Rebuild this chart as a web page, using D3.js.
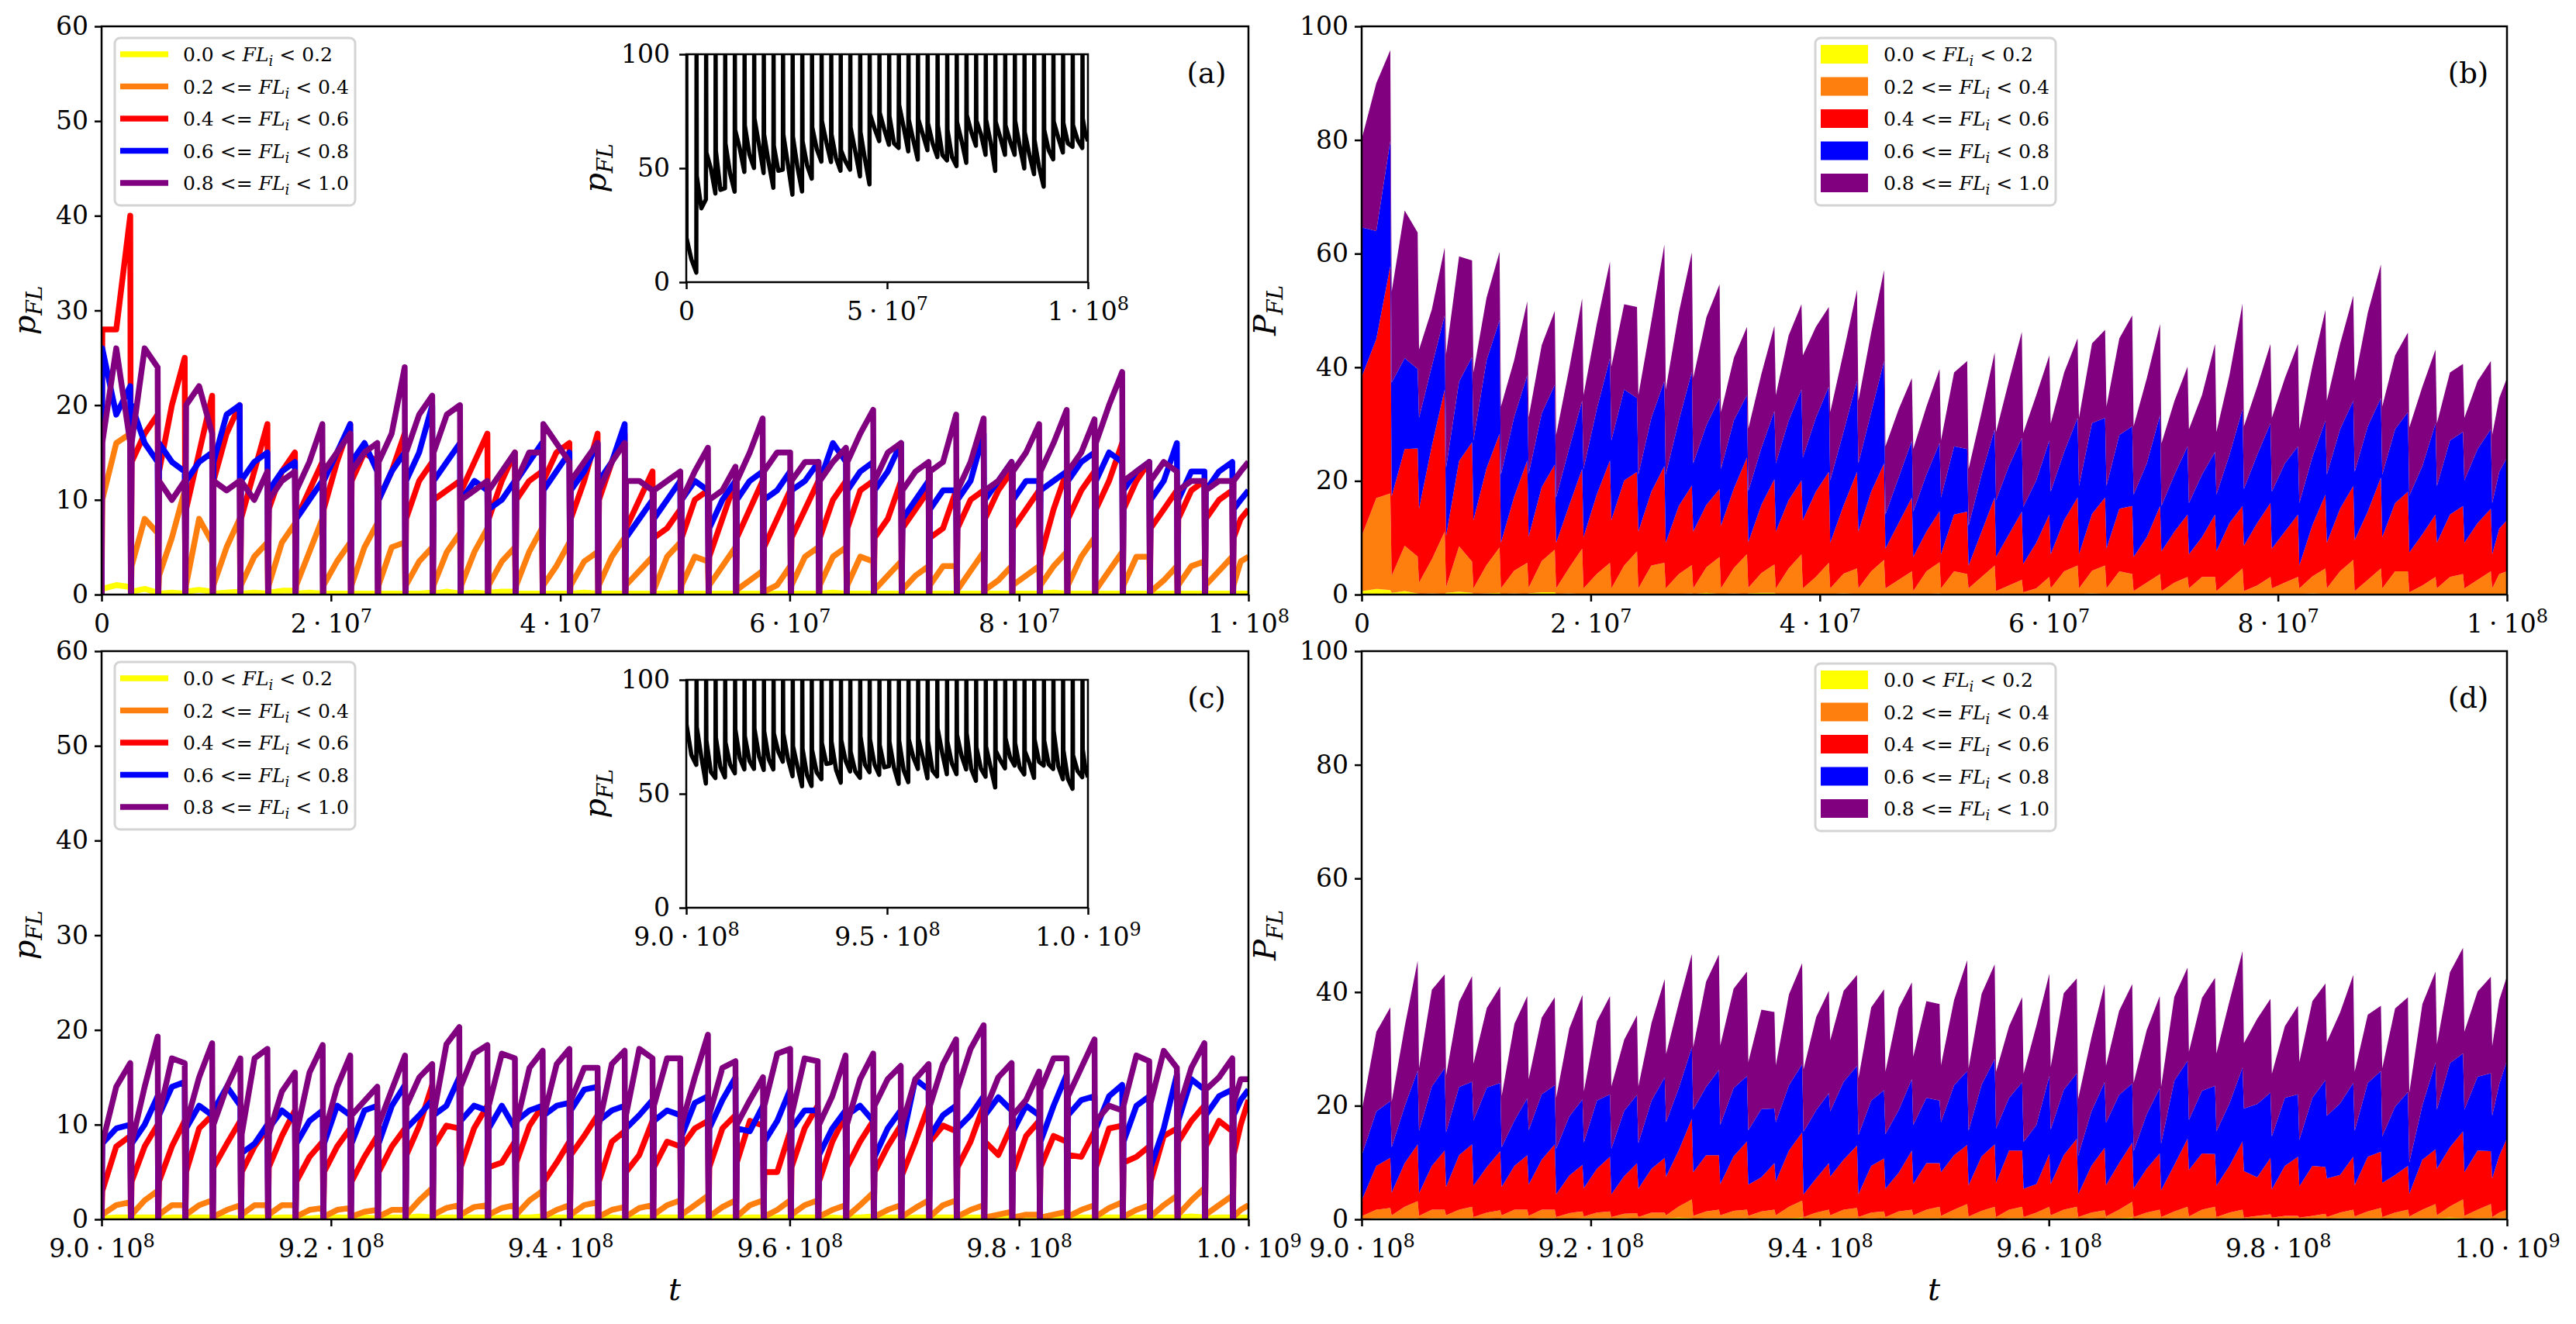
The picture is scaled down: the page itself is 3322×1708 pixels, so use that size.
<!DOCTYPE html>
<html><head><meta charset="utf-8">
<script src="https://cdn.jsdelivr.net/npm/d3@7"></script>
<style>
body{margin:0;background:#fff}
svg{display:block}
text{font-family:"DejaVu Serif",serif;white-space:pre}
</style>
</head><body>
<svg id="fig" width="3322" height="1708"></svg>
<script>
// ================= DATA =================
// Reset times (units of 1e6) where every FL bin drops to 0, top row (t in [0,1e8])
const cycA = [2.56,4.95,7.31,9.70,12.10,14.52,16.92,19.31,21.74,24.10,26.49,28.89,31.31,33.70,36.10,38.46,40.85,43.31,45.67,48.10,
  50.52,52.93,55.33,57.70,60.10,62.57,64.97,67.34,69.77,72.17,74.57,76.97,79.41,81.81,84.21,86.64,89.05,91.41,93.82,96.22,98.65];
// Per cycle: [value just after reset, mid-cycle value, value just before next reset]  (percent)
const yellowA = [[0.6,1.0,0.8],[0.3,0.6,0.2],[0.1,0.2,0.1],[0.3,0.5,0.3],[0.1,0.2,0.3],[0.1,0.2,0.1],[0.2,0.4,0.4],[0.1,0.2,0.1],[0.1,0.1,0.1],[0.1,0.1,0.1],
  [0.1,0.1,0.1],[0.1,0.1,0.2],[0.1,0.3,0.1],[0.1,0.2,0.1],[0.2,0.3,0.3],[0.1,0.1,0.1],[0.1,0.1,0.1],[0.1,0.2,0.1],[0.1,0.1,0.1],[0.1,0.1,0.1],
  [0.1,0.1,0.2],[0.1,0.1,0.1],[0.1,0.1,0.1],[0.1,0.1,0.1],[0.1,0.1,0.1],[0.1,0.1,0.1],[0.1,0.2,0.1],[0.1,0.1,0.1],[0.1,0.1,0.1],[0.1,0.1,0.1],
  [0.1,0.1,0.1],[0.1,0.1,0.1],[0.1,0.1,0.1],[0.1,0.1,0.1],[0.1,0.2,0.1],[0.1,0.1,0.1],[0.1,0.1,0.1],[0.1,0.1,0.1],[0.1,0.1,0.1],[0.1,0.1,0.1],
  [0.1,0.1,0.1],[0.1,0.1,0.1]];
const orangeA = [[10,16,17],[3,8,6.5],[2,6,11],[1,8,5.5],[1,5,8],[1,4,5.5],[1,5.5,7.5],[1,4.5,8],[1,3.5,5.5],[1,5,7.5],
  [1,5,5.5],[1,3.5,5],[1,4.5,6.5],[1,4.5,7],[1,3.5,5],[1,4.5,7],[1,3,5.5],[1,3.5,4.5],[1,4,6],[1,2.5,4],
  [0.5,4,5.5],[1,4,3.5],[1,3,5],[0.5,1.5,2.5],[0.3,1,3],[1,4,5],[1,4,5],[1,4,3.5],[0.5,2,3.5],[0.5,2,3],
  [1,3,3],[0.5,2.5,4.5],[0.5,1.5,3],[1,2,3],[1,3,4.5],[1,4,6],[0.5,2.5,4.5],[1,4,4],[0.3,1.5,3],[1,3,3.5],
  [1,2.5,4],[1,3.5,4]];
const redA = [[28,28,40],[14,17,19],[13,20,25],[9,15,21],[12,17,20],[8,13,18],[9,13,15],[8,11,14],[9,14,18],[12,15,14],
  [10,13,17],[8,12,14],[10,11,12],[11,14,17],[8,12,15],[10,12,13],[12,15,16],[8,12,17],[10,14,17],[7,10,13],
  [6,7,9],[6,10,11],[4,8,12],[6,9,12],[5,8,11],[6,9,12],[6,10,12],[7,11,12],[6,8,12],[7,9,11],
  [6,7,11],[7,10,11],[8,11,13],[7,9,11],[4,9,13],[8,11,13],[9,12,16],[9,12,14],[7,9,11],[8,11,12],
  [8,10,11],[6,8,9]];
const blueA = [[26,19,22],[20,16,14],[16,14,13],[12,14,15],[14,19,20],[12,14,15],[11,13,14],[8,10,12],[12,15,18],[14,16,13],
  [10,13,15],[12,15,20],[12,14,16],[10,12,11],[9,10,12],[12,14,16],[11,13,15],[11,13,16],[12,14,18],[6,8,10],
  [8,10,12],[10,12,11],[7,10,12],[10,12,13],[10,11,13],[11,12,14],[12,16,14],[11,13,14],[11,13,16],[8,10,12],
  [9,11,11],[10,12,17],[10,12,14],[10,12,12],[11,12,13],[12,14,15],[12,15,14],[11,13,14],[10,12,16],[10,13,13],
  [11,13,14],[9,10,11]];
const purpleA = [[16,26,16],[16,26,24],[12,10,12],[20,22,17],[12,11,12],[12,10,13],[10,12,13],[11,14,18],[13,15,17],[13,15,16],
  [14,17,24],[15,19,21],[15,19,20],[10,11,12],[11,13,15],[12,15,15],[18,16,14],[12,14,16],[11,14,16],[12,12,11],
  [11,12,13],[10,13,15.5],[10,11,13.5],[12,15,18.6],[13,15,15],[12,14,14],[12,14,15.5],[14,17,19.5],[12,15,16],[11,13,14],
  [13,14,19],[11,14,18.6],[11,12,14],[13,15,18],[13,16,19.5],[13,15,18.5],[16,20,23.5],[12,13,14],[12,14,13],[11,12,12],
  [11,12,12],[12,13,14]];

// Bottom row (t in [9e8,1e9]), reset times in units of 1e6
const cycC = [902.56,904.95,907.31,909.70,912.16,914.52,916.92,919.34,921.74,924.10,926.52,928.89,931.25,933.70,936.10,938.52,940.85,943.31,945.67,948.10,
  950.52,952.93,955.33,957.73,960.10,962.50,964.93,967.34,969.74,972.17,974.57,976.97,979.41,981.81,984.21,986.64,989.05,991.41,993.82,996.22,998.65];
const yellowC = [[0.1,0.2,0.2],[0.2,0.2,0.2],[0.1,0.2,0.2],[0.2,0.2,0.2],[0.1,0.2,0.1],[0.2,0.2,0.2],[0.1,0.2,0.2],[0.1,0.1,0.2],[0.2,0.2,0.2],[0.1,0.2,0.1],
  [0.1,0.2,0.2],[0.2,0.3,0.2],[0.1,0.2,0.2],[0.2,0.2,0.2],[0.1,0.2,0.2],[0.2,0.2,0.3],[0.1,0.2,0.2],[0.2,0.2,0.2],[0.1,0.2,0.1],[0.1,0.2,0.2],
  [0.2,0.2,0.2],[0.1,0.2,0.2],[0.2,0.2,0.2],[0.1,0.2,0.2],[0.1,0.2,0.2],[0.2,0.2,0.2],[0.1,0.2,0.1],[0.2,0.2,0.3],[0.1,0.2,0.2],[0.1,0.2,0.2],
  [0.2,0.2,0.2],[0.1,0.2,0.2],[0.1,0.1,0.1],[0.1,0.1,0.1],[0.1,0.1,0.2],[0.1,0.2,0.2],[0.2,0.2,0.2],[0.1,0.2,0.2],[0.2,0.2,0.2],[0.2,0.3,0.2],
  [0.1,0.2,0.2],[0.1,0.2,0.2]];
const orangeC = [[0.5,1.5,1.8],[0.5,2,3],[0.5,1.5,1.5],[0.5,1.5,2],[0.3,1,1.5],[0.5,1.5,1.5],[0.5,1.5,1.5],[0.3,1,1.2],[0.3,1,1.2],[0.3,0.8,1],
  [0.3,1,1],[0.5,2,3.3],[0.5,1.2,1.5],[0.5,1.3,1.5],[0.5,1.2,1.5],[0.5,2,3],[0.3,1,1.5],[0.5,1.5,1.8],[0.3,1,1.3],[0.3,1.2,1.5],
  [0.5,1.5,2],[0.5,1.5,2.5],[0.3,1.3,2],[0.3,1.5,2],[0.3,1,2],[0.5,1.5,2],[0.3,1,1.5],[0.3,1.5,2.8],[0.3,1,1.5],[0.3,1.2,2],
  [0.3,1.5,2],[0.3,1,1.5],[0.2,0.5,0.8],[0.2,0.5,0.5],[0.2,0.5,0.8],[0.3,1,1.5],[0.3,1.2,1.8],[0.3,1,1.5],[0.3,1.5,2.5],[0.5,2,3.3],
  [0.5,1.5,2.5],[0.3,1,1.5]];
const redC = [[3,7.7,8.8],[4,7.7,10],[4,7.7,10.4],[5,9.6,11],[5.5,8,10.4],[5,7.7,9.6],[5.5,8.8,11.5],[4,6.6,8.2],[5,7.7,9.6],[4,6.6,8.8],
  [5,7.7,9.6],[6.8,9.9,14.2],[7.7,9.9,9.6],[5.5,9.6,12],[5.5,6,8.2],[6,9.9,12],[4,6,8.2],[6.8,8.8,11],[4,8.2,9.3],[5,6.8,10.4],
  [5.5,8.2,7.7],[7.7,9.6,10.4],[5.5,9.6,11],[6,10.4,9.9],[5,5,9.3],[5.5,9.6,12],[4,8.2,11],[5.5,8.2,10.4],[5,7.7,9.9],[4.7,8.2,12],
  [8.2,9.9,9.3],[5.5,8.2,12],[8.2,6.8,9.9],[5,8.8,10.4],[5.5,8.8,8.2],[6.8,6.6,9.3],[5.5,9.6,9.9],[6,6.6,7.7],[4,8.8,9.6],[8.2,10.4,12],
  [7.7,10.4,9.3],[6.8,10,12.6]];
const blueC = [[8,9.6,10],[8,10,13],[11,14,14.5],[9.6,12,11],[11.5,14,12],[7,8,10],[9.6,11.5,10.4],[8,10.4,11.5],[8,12,11],[8,11.5,12],
  [8,12,14.2],[9.6,11,12.6],[11,12,15],[10.4,12,11.5],[9.6,12,9.6],[10.4,11.5,12],[11,12,12.3],[11.5,13.7,14],[10.4,11.5,12],[9.6,11,12.6],
  [10.4,11.5,11],[8.8,12.3,13],[9.6,12.6,15],[9.6,9.3,12],[8.2,10.4,13.7],[9.6,11.5,11.5],[6.8,9.6,11.5],[11,12,10.4],[6.6,9.6,11.5],[8.2,14.8,13.7],
  [8.8,11,12],[9.6,11,13],[11,12.9,11.5],[9.3,12,11],[8.2,12,15.3],[11,12.6,13],[9.6,13,14.2],[8.2,12,13],[5.5,9.6,15.3],[10.4,14.8,13.7],
  [11,13,13.7],[11,12.6,13.7]];
const purpleC = [[8,14,16.5],[8,14,19.3],[11,17,16.5],[10,15,18.6],[10,14,17],[9,17,18],[9,13.5,15.5],[9,15.5,18.4],[9,14,17.3],[11,12.5,14],
  [10,13.7,17.3],[12,15,16.4],[11,18.5,20.3],[14,17.5,18.4],[12,17.5,17],[10,16,17.8],[11,16.4,18],[12.5,16,16],[10,16.4,17.8],[11,18,17],
  [12,17,17],[10,15,19.5],[11,16,16.7],[10,12.6,15],[12,17.5,18],[11,17,16.7],[10,13,17.3],[10,14.8,17.5],[12,14.8,16.2],[10,14.8,16.4],
  [12,16.4,19],[13.7,18,20.5],[11.5,15,16.5],[11,12.6,15.6],[13.7,17,17],[13,16,19],[10.4,12,11.5],[12,17.3,16.7],[12.3,17.8,16],[11.5,16,18.6],
  [13.7,15,17],[12.3,14.8,14.8]];

// Legend bins
const binLo = ['0.0','0.2','0.4','0.6','0.8'];
const binOp = ['<','<=','<=','<=','<='];
const binHi = ['0.2','0.4','0.6','0.8','1.0'];

// Ticks
const xTicksA = [0,2e7,4e7,6e7,8e7,1e8];
const xLabA = ['0','2·10^7','4·10^7','6·10^7','8·10^7','1·10^8'];
const xTicksC = [9e8,9.2e8,9.4e8,9.6e8,9.8e8,1e9];
const xLabC = ['9.0·10^8','9.2·10^8','9.4·10^8','9.6·10^8','9.8·10^8','1.0·10^9'];
const inTicksA = [0,5e7,1e8];
const inLabA = ['0','5·10^7','1·10^8'];
const inTicksC = [9e8,9.5e8,1e9];
const inLabC = ['9.0·10^8','9.5·10^8','1.0·10^9'];
const yTicksL = [0,10,20,30,40,50,60];
const yTicksR = [0,20,40,60,80,100];
const yTicksIn = [0,50,100];

// ================= RENDERING =================
const keys = ['yellow','orange','red','blue','purple'];
const colors = {yellow:'#ffff00', orange:'#ff7f0e', red:'#ff0000', blue:'#0000ff', purple:'#800080'};
const T_UNIT = 1e6, DELTA = 0.06;
const svg = d3.select('#fig');
const defs = svg.append('defs');
let clipId = 0;

function build(cyc, t0, t1, m) {
  const n = cyc.length + 1, line = [], stack = [];
  for (let k = 0; k < n; k++) {
    const a = k === 0 ? t0 : cyc[k-1];
    const b = k === n-1 ? t1 : cyc[k];
    const pt = (t, idx) => { const r = {t: t*T_UNIT}; keys.forEach(s => r[s] = idx < 0 ? 0 : m[s][k][idx]); return r; };
    if (k === 0) line.push(pt(a, -1));
    const p1 = pt(a + DELTA, 0), p2 = pt((a + b)/2, 1), p3 = pt(k === n-1 ? b : b - DELTA, 2);
    line.push(p1, p2, p3); stack.push(p1, p2, p3);
    if (k < n-1) line.push(pt(b, -1));
  }
  // inset: share of nodes outside the five bins (100 - sum of bins)
  line.forEach(r => r.inset = 100 - d3.sum(keys, s => r[s]));
  return {line, stack};
}

const dataA = build(cycA, 0, 100, {yellow:yellowA, orange:orangeA, red:redA, blue:blueA, purple:purpleA});
const dataC = build(cycC, 900, 1000, {yellow:yellowC, orange:orangeC, red:redC, blue:blueC, purple:purpleC});

function rich(t, s) {
  const parts = s.split('^');
  t.append('tspan').text(parts[0].replace('·', '\u2005·\u2005'));
  if (parts[1]) t.append('tspan').attr('dy', -13).attr('font-size', 24).text(parts[1]);
}

function axes(g, x, y, box, xt, xl, yt, ypad) {
  const ax = g.append('g').attr('transform', `translate(0,${box.y1})`)
    .call(d3.axisBottom(x).tickValues(xt).tickSize(9).tickSizeOuter(0));
  ax.attr('font-family', null).attr('font-size', 33);
  ax.select('.domain').remove();
  ax.selectAll('.tick line').attr('stroke', '#000').attr('stroke-width', 2.5);
  ax.selectAll('.tick text').each(function(d, i) {
    const t = d3.select(this); t.text(null).attr('y', 49).attr('dy', null).attr('fill', '#000');
    rich(t, xl[i]);
  });
  const ay = g.append('g').attr('transform', `translate(${box.x0},0)`)
    .call(d3.axisLeft(y).tickValues(yt).tickSize(9).tickSizeOuter(0).tickPadding(ypad).tickFormat(d3.format('d')));
  ay.attr('font-family', null).attr('font-size', 33);
  ay.select('.domain').remove();
  ay.selectAll('.tick line').attr('stroke', '#000').attr('stroke-width', 2.5);
  ay.selectAll('.tick text').attr('fill', '#000');
}

function clipFor(box) {
  const id = 'clip' + (clipId++);
  defs.append('clipPath').attr('id', id).append('rect')
    .attr('x', box.x0).attr('y', box.y0).attr('width', box.x1 - box.x0).attr('height', box.y1 - box.y0);
  return `url(#${id})`;
}

function spine(g, box, w) {
  g.append('rect').attr('x', box.x0).attr('y', box.y0).attr('width', box.x1 - box.x0).attr('height', box.y1 - box.y0)
    .attr('fill', 'none').attr('stroke', '#000').attr('stroke-width', w);
}

function ylabel(g, x, y, main) {
  const t = g.append('text').attr('transform', `translate(${x},${y}) rotate(-90)`)
    .attr('text-anchor', 'middle').attr('font-size', 40).attr('font-style', 'italic');
  t.append('tspan').text(main);
  t.append('tspan').attr('dy', 9).attr('font-size', 28).text('FL');
}

function legend(g, bx, by, kind) {
  g.append('rect').attr('x', bx).attr('y', by).attr('width', 310).attr('height', 216).attr('rx', 7)
    .attr('fill', '#fff').attr('fill-opacity', 0.8).attr('stroke', '#d4d4d4').attr('stroke-width', 3);
  keys.forEach((k, i) => {
    const cy = by + 21 + i * 41.5;
    if (kind === 'line') {
      g.append('line').attr('x1', bx + 7).attr('x2', bx + 69).attr('y1', cy).attr('y2', cy)
        .attr('stroke', colors[k]).attr('stroke-width', 7.5);
    } else {
      g.append('rect').attr('x', bx + 7).attr('y', cy - 12).attr('width', 61).attr('height', 24).attr('fill', colors[k]);
    }
    const t = g.append('text').attr('x', bx + 88).attr('y', cy + 9).attr('font-size', 25);
    t.append('tspan').text(`${binLo[i]} ${binOp[i]} `);
    t.append('tspan').attr('font-style', 'italic').text('FL');
    t.append('tspan').attr('font-style', 'italic').attr('font-size', 18).attr('dy', 6).text('i');
    t.append('tspan').attr('dy', -6).text(` < ${binHi[i]}`);
  });
}

function letter(g, x, y, s) {
  g.append('text').attr('x', x).attr('y', y).attr('text-anchor', 'middle').attr('font-size', 37).text(s);
}

function linePanel(box, data, xdom, xt, xl, lg, lab, inBox, inT, inL) {
  const g = svg.append('g');
  const x = d3.scaleLinear().domain(xdom).range([box.x0, box.x1]);
  const y = d3.scaleLinear().domain([0, 60]).range([box.y1, box.y0]);
  const cp = clipFor(box);
  const dg = g.append('g').attr('clip-path', cp);
  keys.forEach(k => {
    dg.append('path').datum(data.line)
      .attr('d', d3.line().x(d => x(d.t)).y(d => y(d[k])))
      .attr('fill', 'none').attr('stroke', colors[k]).attr('stroke-width', 7.5)
      .attr('stroke-linejoin', 'round');
  });
  axes(g, x, y, box, xt, xl, yTicksL, 8);
  spine(g, box, 2.5);
  ylabel(g, 45, (box.y0 + box.y1)/2 + 0, 'p');
  legend(g, lg[0], lg[1], 'line');
  letter(g, lab[0], lab[1], lab[2]);
  // inset
  const gi = svg.append('g');
  gi.append('rect').attr('x', inBox.x0).attr('y', inBox.y0).attr('width', inBox.x1 - inBox.x0).attr('height', inBox.y1 - inBox.y0).attr('fill', '#fff');
  const xi = d3.scaleLinear().domain(xdom).range([inBox.x0, inBox.x1]);
  const yi = d3.scaleLinear().domain([0, 100]).range([inBox.y1, inBox.y0]);
  gi.append('g').attr('clip-path', clipFor(inBox)).append('path').datum(data.line)
    .attr('d', d3.line().x(d => xi(d.t)).y(d => yi(d.inset)))
    .attr('fill', 'none').attr('stroke', '#000').attr('stroke-width', 5.5).attr('stroke-linejoin', 'round');
  axes(gi, xi, yi, inBox, inT, inL, yTicksIn, 12);
  spine(gi, inBox, 2.5);
  ylabel(gi, 781, (inBox.y0 + inBox.y1)/2, 'p');
}

function stackPanel(box, data, xdom, xt, xl, lg, lab) {
  const g = svg.append('g');
  const x = d3.scaleLinear().domain(xdom).range([box.x0, box.x1]);
  const y = d3.scaleLinear().domain([0, 100]).range([box.y1, box.y0]);
  const series = d3.stack().keys(keys)(data.stack);
  const area = d3.area().x(d => x(d.data.t)).y0(d => y(d[0])).y1(d => y(d[1]));
  const dg = g.append('g').attr('clip-path', clipFor(box));
  series.forEach(s => dg.append('path').datum(s).attr('d', area).attr('fill', colors[s.key]));
  axes(g, x, y, box, xt, xl, yTicksR, 8);
  spine(g, box, 2.5);
  ylabel(g, 1645, (box.y0 + box.y1)/2, 'P');
  legend(g, lg[0], lg[1], 'patch');
  letter(g, lab[0], lab[1], lab[2]);
}

const boxA = {x0:131, x1:1610, y0:34, y1:767};
const boxB = {x0:1756, x1:3233, y0:34, y1:767};
const boxC = {x0:131, x1:1610, y0:840, y1:1573};
const boxD = {x0:1756, x1:3233, y0:840, y1:1573};
const inA = {x0:885, x1:1403, y0:70, y1:364};
const inC = {x0:885, x1:1403, y0:877, y1:1171};

linePanel(boxA, dataA, [0, 1e8], xTicksA, xLabA, [148, 49], [1556, 107, '(a)'], inA, inTicksA, inLabA);
stackPanel(boxB, dataA, [0, 1e8], xTicksA, xLabA, [2341, 49], [3183, 107, '(b)']);
linePanel(boxC, dataC, [9e8, 1e9], xTicksC, xLabC, [148, 854], [1556, 913, '(c)'], inC, inTicksC, inLabC);
stackPanel(boxD, dataC, [9e8, 1e9], xTicksC, xLabC, [2341, 856], [3183, 913, '(d)']);

// x-axis labels
[[870, 1677], [2494, 1677]].forEach(p => svg.append('text').attr('x', p[0]).attr('y', p[1])
  .attr('text-anchor', 'middle').attr('font-size', 40).attr('font-style', 'italic').text('t'));
</script>
</body></html>
